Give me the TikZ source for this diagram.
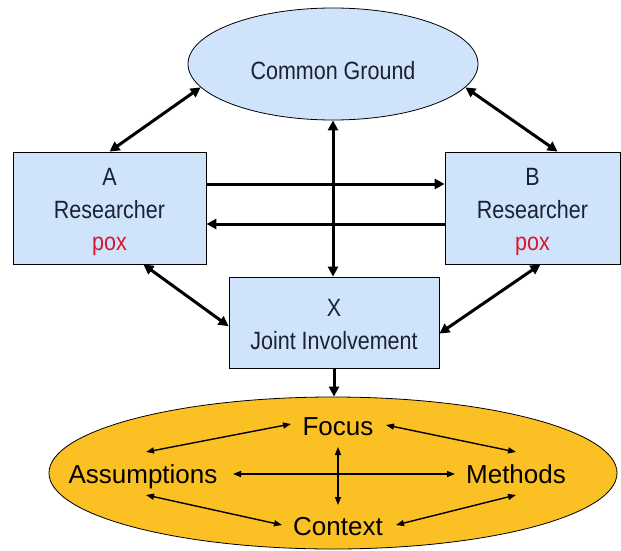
\documentclass[tikz,border=0pt]{standalone}
\usepackage{fontspec}
\setmainfont{Liberation Sans}
\newfontfamily\narrowsans[FakeStretch=0.86]{Liberation Sans}
\usetikzlibrary{arrows.meta,shapes.geometric,calc}
\definecolor{boxblue}{RGB}{207,227,250}
\definecolor{ovalorange}{RGB}{251,192,36}
\definecolor{navy}{RGB}{27,34,51}
\definecolor{poxred}{RGB}{215,23,47}
\newcommand{\topstrut}{\rule{0pt}{26pt}}
\newcommand{\xstrut}{\rule{0pt}{21pt}}
\begin{document}
\begin{tikzpicture}[x=1pt,y=-1pt,
  bluebox/.style={draw=black,line width=0.8pt,fill=boxblue,rectangle,text=navy,
     font=\narrowsans\fontsize{25}{32.5}\selectfont,align=center,inner sep=0pt},
  cgoval/.style={draw=black,line width=0.8pt,fill=boxblue,ellipse,inner sep=0pt},
  cglabel/.style={text=navy,font=\narrowsans\fontsize{25}{28}\selectfont,inner sep=0pt,yshift=-7pt},
  bigoval/.style={draw=black,line width=0.8pt,fill=ovalorange,ellipse,inner sep=0pt},
  term/.style={font=\fontsize{26}{30}\selectfont,text=black,inner sep=0pt,anchor=base},
  thick2/.style={line width=3pt,{Triangle[length=10pt,width=10pt]}-{Triangle[length=10pt,width=10pt]}},
  thick1/.style={line width=3pt,-{Triangle[length=10pt,width=10pt]}},
  thin2/.style={line width=1.4pt,{Triangle[length=8pt,width=6pt]}-{Triangle[length=8pt,width=6pt]}}
]
\useasboundingbox (0,0) rectangle (621,551);

% nodes
\node[cgoval,minimum width=290pt,minimum height=112pt,
      label={[cglabel]center:Common Ground}] (CG) at (333,64) {};
\node[bluebox,minimum width=193pt,minimum height=112pt] (A) at (109.5,208) {\topstrut A\\Researcher\\\textcolor{poxred}{pox}};
\node[bluebox,minimum width=175pt,minimum height=112pt] (B) at (532.5,208) {\topstrut B\\Researcher\\\textcolor{poxred}{pox}};
\node[bluebox,minimum width=210pt,minimum height=91pt] (X) at (334,322.5) {\xstrut X\\Joint Involvement};
\node[bigoval,minimum width=568pt,minimum height=152pt] (O) at (333,473) {};

\node[term] (Fo) at (338,435) {Focus};
\node[term] (As) at (143,483) {Assumptions};
\node[term] (Me) at (516,483) {Methods};
\node[term] (Co) at (338,535) {Context};

% thick connectors
\draw[thick2] (A.north) -- (CG.190);
\draw[thick2] (B.66.8) -- (CG.-10.7);
\draw[thick1] ([yshift=24pt]A.east) -- ([yshift=24pt]B.west);
\draw[thick1] ([yshift=-16pt]B.west) -- ([yshift=-16pt]A.east);
\draw[thick2] (CG.south) -- (CG.south |- X.north);
\draw[thick2] (A.-59.6) -- (X.182.5);
\draw[thick2] (B.-82) -- (X.-6.8);
\draw[thick1] (X.south) -- (X.south |- O.north);

% thin connectors inside the orange oval
\draw[thin2] ([xshift=3pt,yshift=31pt]As.base) -- ([xshift=-47pt,yshift=11pt]Fo.base);
\draw[thin2] ([xshift=48pt,yshift=10pt]Fo.base) -- ([yshift=31pt]Me.base);
\draw[thin2] ([xshift=90pt,yshift=9pt]As.base) -- ([xshift=-61pt,yshift=9pt]Me.base);
\draw[thin2] ([yshift=-12pt]Fo.base) -- ([yshift=30pt]Co.base);
\draw[thin2] ([xshift=3pt,yshift=-12pt]As.base) -- ([xshift=-56pt,yshift=10pt]Co.base);
\draw[thin2] ([yshift=-12pt]Me.base) -- ([xshift=58pt,yshift=10pt]Co.base);
\end{tikzpicture}
\end{document}
